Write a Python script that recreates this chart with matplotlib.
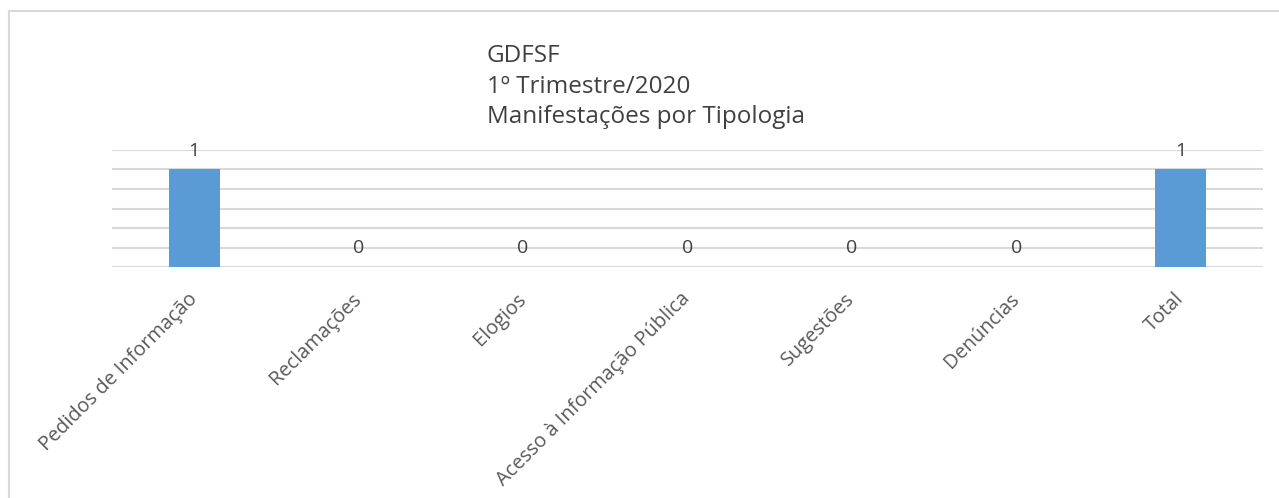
import matplotlib.pyplot as plt
from matplotlib.patches import Rectangle

plt.rcParams['font.family'] = ['Open Sans', 'DejaVu Sans']

# dados do grafico
categorias = ["Pedidos de Informação", "Reclamações", "Elogios",
              "Acesso à Informação Pública", "Sugestões", "Denúncias", "Total"]
valores = [1, 0, 0, 0, 0, 0, 1]
titulo = ["GDFSF", "1º Trimestre/2020", "Manifestações por Tipologia"]

fig = plt.figure(figsize=(12.79, 4.98), dpi=100)
ax = fig.add_axes([112/1279, 1 - 267/498, (1263-112)/1279, (267-150)/498])

# borda cinza em volta do grafico (como no Excel)
fig.patches.append(Rectangle((9/1279, -0.05), 1.0, 1 - 11/498 + 0.05,
                             transform=fig.transFigure, fill=False,
                             edgecolor="#d9d9d9", linewidth=1.5))

x = list(range(len(categorias)))
ax.bar(x, valores, width=0.31, color="#5b9bd5", zorder=3)

for xi, v in zip(x, valores):
    ax.annotate(str(v), (xi, v), xytext=(0, 13.5), textcoords="offset points",
                ha="center", va="center", fontsize=14, color="#404040")

ax.set_xlim(-0.5, len(categorias) - 0.5)
ax.set_ylim(0, 1.2)
ax.set_yticks([0, 0.2, 0.4, 0.6, 0.8, 1.0, 1.2])
ax.yaxis.grid(True, color="#d9d9d9", linewidth=1.5, zorder=0)
ax.tick_params(axis="y", left=False, labelleft=False)
ax.tick_params(axis="x", length=0, pad=21)
ax.set_xticks(x)
ax.set_xticklabels(categorias, rotation=45, ha="right", va="center",
                   rotation_mode="anchor", fontsize=14.3, color="#595959")
for s in ax.spines.values():
    s.set_visible(False)

# titulo em tres linhas, alinhado a esquerda
for linha, yb in zip(titulo, [62, 93, 123]):
    fig.text(487/1279, 1 - yb/498, linha, ha="left", va="baseline",
             fontsize=17.5, color="#404040")

fig.savefig("out.png", dpi=100)
